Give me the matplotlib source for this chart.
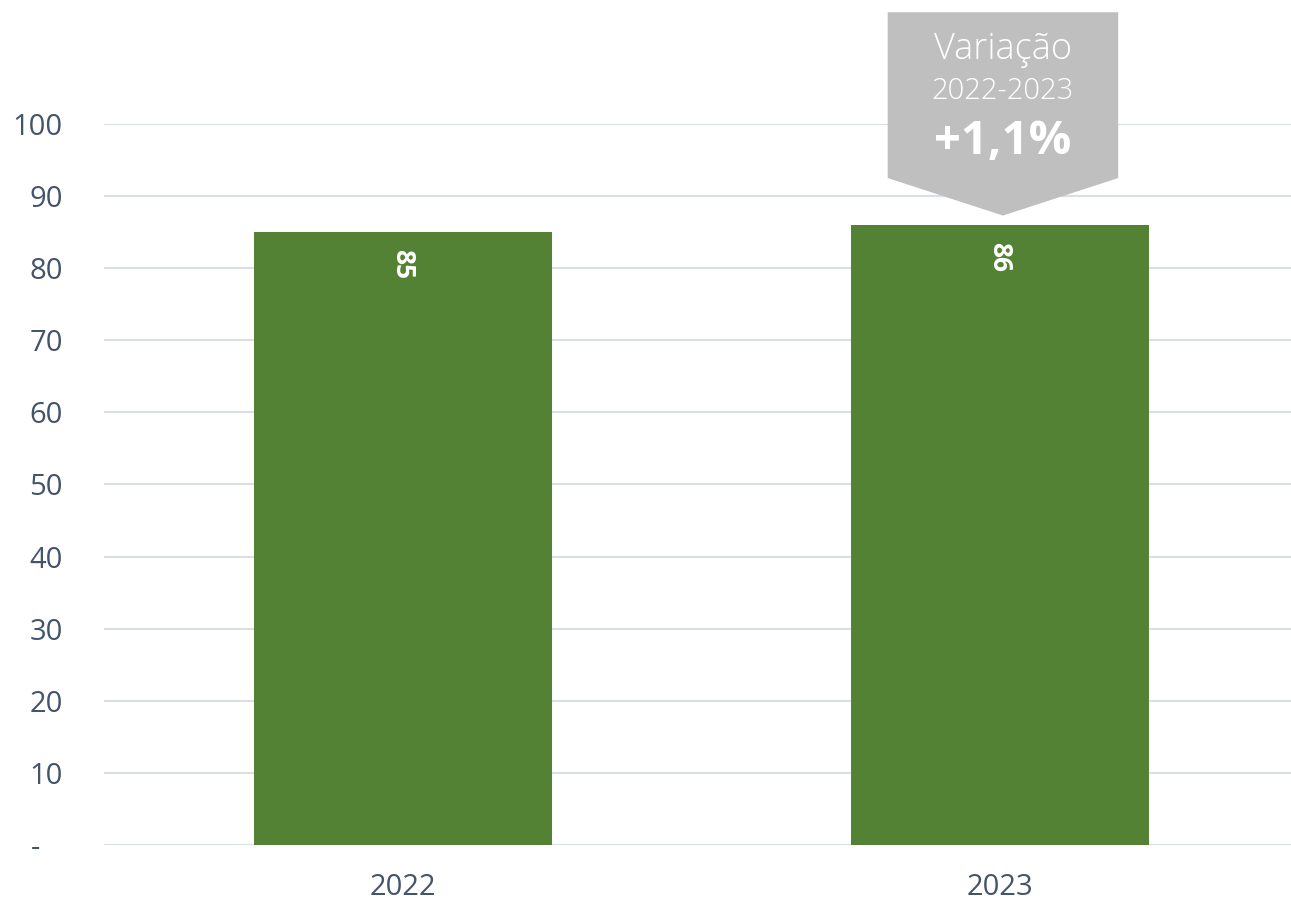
import matplotlib.pyplot as plt
from matplotlib.patches import Polygon

plt.rcParams['font.family'] = ['Open Sans', 'DejaVu Sans']

# data
years = ['2022', '2023']
values = [85, 86]
y_ticks = [0, 10, 20, 30, 40, 50, 60, 70, 80, 90, 100]
y_tick_labels = ['-   ', '10', '20', '30', '40', '50', '60', '70', '80', '90', '100']
callout_title = 'Variação'
callout_period = '2022-2023'
callout_change = '+1,1%'

bar_color = '#548235'
text_color = '#44546A'
grid_color = '#DADFE6'
box_color = '#BFBFBF'

fig = plt.figure(figsize=(12.91, 9.05), dpi=100)
ax = fig.add_axes([0.0809, 0.0663, 0.9249, 0.7967])

x = list(range(len(years)))
bars = ax.bar(x, values, width=0.5, color=bar_color, zorder=3)

ax.set_xlim(-0.5, len(years) - 0.5)
ax.set_ylim(0, 100)
ax.set_yticks(y_ticks)
ax.set_yticklabels(y_tick_labels)
ax.set_xticks(x)
ax.set_xticklabels(years)
ax.tick_params(axis='both', length=0, labelsize=21, colors=text_color)
ax.tick_params(axis='y', pad=30)
ax.tick_params(axis='x', pad=20)

ax.grid(axis='y', color=grid_color, linewidth=1.5, zorder=0)
for s in ax.spines.values():
    s.set_visible(False)

# value labels inside bars, rotated
for xi, v in zip(x, values):
    ax.annotate(str(v), (xi, v), xytext=(0, -12), textcoords='offset points',
                rotation=270, ha='center', va='top', color='white',
                fontsize=19, fontweight='bold')

# callout over the last bar
cx = x[-1] + 0.005
tip = values[-1] + 1.3
half = 0.193
poly = Polygon([(cx - half, 115.5), (cx + half, 115.5), (cx + half, 92.5),
                (cx, tip), (cx - half, 92.5)],
               closed=True, facecolor=box_color, edgecolor='none',
               clip_on=False, zorder=4)
ax.add_patch(poly)
ax.text(cx, 110.3, callout_title, ha='center', va='center', fontweight='light',
        color='white', fontsize=26, clip_on=False, zorder=5)
ax.text(cx, 104.5, callout_period, ha='center', va='center', fontweight='light',
        color='white', fontsize=21, clip_on=False, zorder=5)
ax.text(cx, 97.6, callout_change, ha='center', va='center',
        color='white', fontsize=34, fontweight='bold', clip_on=False, zorder=5)

fig.savefig('out.png', dpi=100)
